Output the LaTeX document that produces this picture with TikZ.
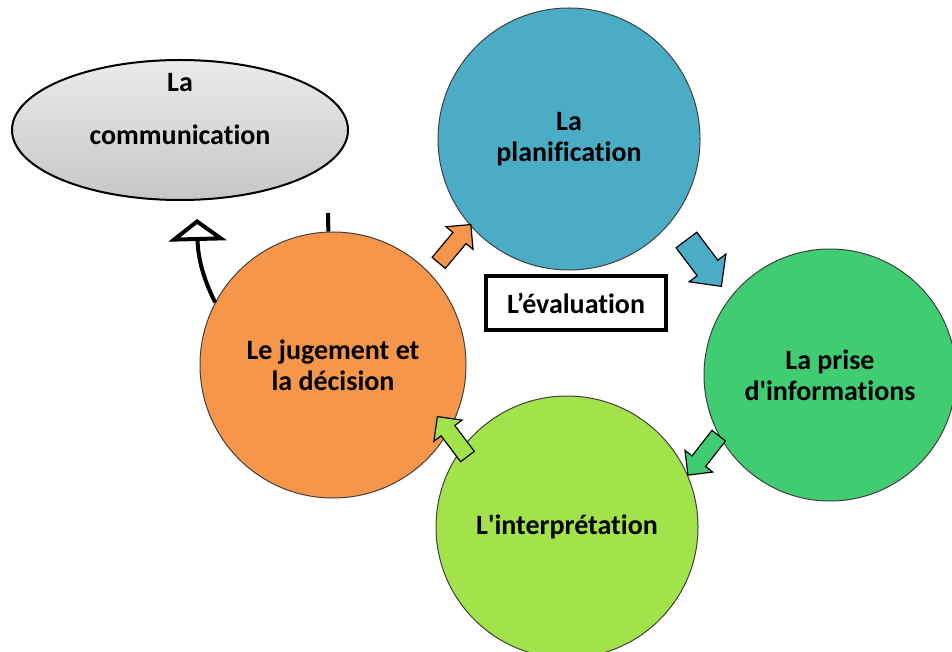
\documentclass[tikz,border=0pt]{standalone}
\usepackage{fontspec}
\setmainfont{Carlito}[Ligatures={TeX,NoCommon}]
\usetikzlibrary{shapes.geometric,shapes.arrows,arrows.meta,positioning}

\definecolor{planblue}{HTML}{4BACC6}
\definecolor{prisegreen}{HTML}{40CD72}
\definecolor{interpgreen}{HTML}{A2E24A}
\definecolor{jugorange}{HTML}{F5964A}

\tikzset{
  stage/.style={circle, draw=black!75, line width=1, minimum size=#1,
    align=center, font=\fontsize{28}{31}\selectfont\bfseries},
  cyclearrow/.style={single arrow, draw=black, line width=1.2,
    minimum height=50, minimum width=34, single arrow head extend=9,
    inner xsep=0pt, inner ysep=8pt},
  lbl/.style={align=center, font=\fontsize{28}{53}\selectfont\bfseries}
}

\begin{document}
\begin{tikzpicture}[x=1pt,y=-1pt]
  \useasboundingbox (0,0) rectangle (952,652);

  % la communication
  \node[ellipse, draw=black, line width=2, top color=white!92!black,
    bottom color=black!22, minimum width=336, minimum height=140] (comm) at (180,130) {};
  \node[lbl] (commtxt) at (180,109) {La\\communication};

  % the four stages
  \node[stage=262, fill=planblue] (plan) at (569,139) {La\\planification};
  \node[stage=252, fill=prisegreen] (prise) at (830,375) {La prise\\d\textquotesingle informations};
  \node[stage=262, fill=interpgreen] (interp) at (567,527) {L\textquotesingle interprétation};
  \node[stage=266, fill=jugorange] (jug) at (333,365) {Le jugement et\\la décision};

  % cycle arrows
  \node[cyclearrow, fill=jugorange, rotate=50] (a1) at (452,247) {};
  \node[cyclearrow, fill=planblue, rotate=-53, minimum height=58,
    minimum width=46, inner ysep=11pt] (a2) at (700,258) {};
  \node[cyclearrow, fill=prisegreen, rotate=-128] (a3) at (706,452) {};
  \node[cyclearrow, fill=interpgreen, rotate=127] (a4) at (455,440) {};

  % centre box
  \node[draw=black, line width=4, fill=white, minimum width=180, minimum height=54,
    font=\fontsize{28}{31}\selectfont\bfseries] (eval) at (576,303) {L’évaluation};

  % link to la communication
  \coordinate (commtip) at (197,219);
  \coordinate (stub) at (328,213);
  \draw[line width=4, -{Triangle[open, width=58, length=22, fill=white]}]
    (jug.152) .. controls (203,278) and (198,258) .. (commtip);
  \draw[line width=4] (jug.92) -- (stub);
\end{tikzpicture}
\end{document}
